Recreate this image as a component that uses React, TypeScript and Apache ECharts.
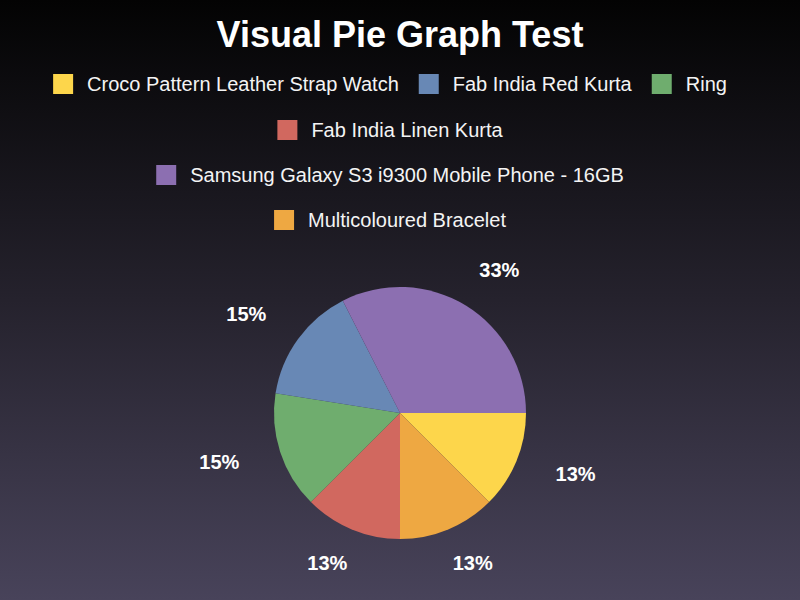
import React, { useEffect, useRef } from "react";
import * as echarts from "echarts";

// Pie slices in drawing order (clockwise from 3 o'clock)
const sliceNames = [
  "Croco Pattern Leather Strap Watch",
  "Multicoloured Bracelet",
  "Fab India Linen Kurta",
  "Ring",
  "Fab India Red Kurta",
  "Samsung Galaxy S3 i9300 Mobile Phone - 16GB",
];
const sliceValues = [5, 5, 5, 6, 6, 13];
const sliceColors = ["#FDD64B", "#EEA842", "#D1685F", "#6FAD6E", "#6888B5", "#8C6FB1"];

// Legend rows as shown in the reference
const legendRows = [
  ["Croco Pattern Leather Strap Watch", "Fab India Red Kurta", "Ring"],
  ["Fab India Linen Kurta"],
  ["Samsung Galaxy S3 i9300 Mobile Phone - 16GB"],
  ["Multicoloured Bracelet"],
];

const titleText = "Visual Pie Graph Test";

const FONT = "'Liberation Sans', Arial, Helvetica, sans-serif";
const CX = 400;
const CY = 413;
const RADIUS = 126;
const LABEL_RX = 190;
const LABEL_RY = 165;

export default function App() {
  const ref = useRef<HTMLDivElement>(null);

  useEffect(() => {
    document.body.style.margin = "0";
    document.body.style.overflow = "hidden";
    if (!ref.current) return;
    const chart = echarts.init(ref.current, undefined, { renderer: "svg" });

    const legendTops = [74, 120, 165, 210];

    const option: any = {
      animation: false,
      backgroundColor: new echarts.graphic.LinearGradient(0, 0, 0, 1, [
        { offset: 0, color: "#030303" },
        { offset: 0.5, color: "#25222D" },
        { offset: 1, color: "#48435A" },
      ]),
      title: {
        text: titleText,
        left: "center",
        top: 11,
        textStyle: {
          color: "#ffffff",
          fontSize: 36,
          fontWeight: "bold",
          fontFamily: FONT,
        },
      },
      legend: legendRows.map((row, i) => ({
        data: row.map((name, j) =>
          j === row.length - 1
            ? { name, textStyle: { padding: [0, 20, 0, 9] } }
            : { name }
        ),
        top: legendTops[i],
        left: "center",
        orient: "horizontal",
        padding: 0,
        icon: "rect",
        itemWidth: 20,
        itemHeight: 20,
        itemGap: 20,
        selectedMode: false,
        textStyle: {
          color: "#F4F4F4",
          fontSize: 20,
          fontFamily: FONT,
          lineHeight: 20,
          padding: [0, 0, 0, 9],
        },
      })),
      series: [
        {
          type: "pie",
          center: [CX, CY],
          radius: [0, RADIUS],
          startAngle: 0,
          clockwise: true,
          silent: true,
          avoidLabelOverlap: false,
          itemStyle: { borderWidth: 0 },
          label: {
            show: true,
            position: "inside",
            color: "#ffffff",
            fontSize: 20,
            fontWeight: "bold",
            fontFamily: FONT,
            textBorderWidth: 0,
            formatter: (p: any) => Math.round(p.percent) + "%",
          },
          labelLine: { show: false },
          labelLayout: (p: any) => {
            const r = p.labelRect;
            const lx = r.x + r.width / 2;
            const ly = r.y + r.height / 2;
            const a = Math.atan2(ly - CY, lx - CX);
            return {
              x: CX + LABEL_RX * Math.cos(a),
              y: CY + LABEL_RY * Math.sin(a) - 2,
              align: "center",
              verticalAlign: "middle",
            };
          },
          data: sliceNames.map((name, i) => ({
            name,
            value: sliceValues[i],
            itemStyle: { color: sliceColors[i] },
          })),
        },
      ],
    };

    chart.setOption(option);
    return () => chart.dispose();
  }, []);

  return <div ref={ref} style={{ width: 800, height: 600 }} />;
}
